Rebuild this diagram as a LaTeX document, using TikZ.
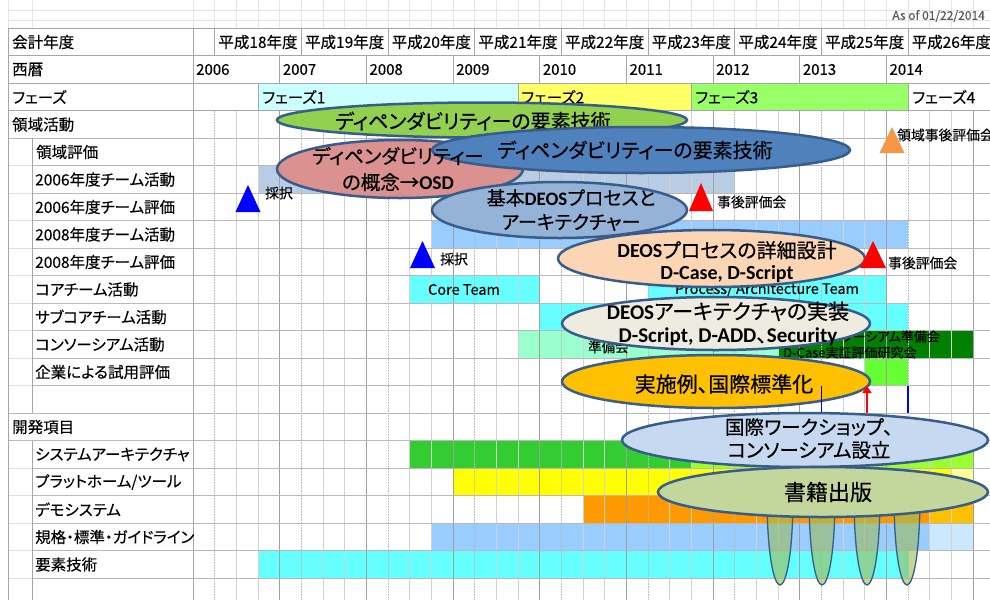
\documentclass[tikz,border=0pt]{standalone}
\usepackage{fontspec}
\newfontfamily\jp{Noto Sans CJK JP}[RawFeature=+palt, FakeBold=0.25]
\newfontfamily\jpe{Noto Sans CJK JP}[RawFeature=+palt, FakeBold=0.45]
\newfontfamily\carl{Carlito}
\usetikzlibrary{shapes.geometric,arrows.meta}
\definecolor{edge}{RGB}{56,93,138}
\definecolor{ph1}{RGB}{204,255,255}
\definecolor{ph2}{RGB}{255,255,102}
\definecolor{ph3}{RGB}{153,255,102}
\definecolor{tsix}{RGB}{184,204,228}
\definecolor{lb}{RGB}{153,204,255}
\definecolor{lbb}{RGB}{204,232,255}
\definecolor{cy}{RGB}{102,255,255}
\definecolor{mint}{RGB}{153,255,204}
\definecolor{dg}{RGB}{0,128,0}
\definecolor{lg}{RGB}{102,255,51}
\definecolor{sa}{RGB}{51,204,51}
\definecolor{saa}{RGB}{153,255,51}
\definecolor{yl}{RGB}{255,255,0}
\definecolor{yll}{RGB}{255,255,153}
\definecolor{org}{RGB}{255,153,0}
\definecolor{orgg}{RGB}{255,192,0}
\definecolor{eone}{RGB}{146,208,80}
\definecolor{etwo}{RGB}{218,145,143}
\definecolor{ethree}{RGB}{79,129,189}
\definecolor{efour}{RGB}{149,179,215}
\definecolor{efive}{RGB}{252,213,181}
\definecolor{esix}{RGB}{238,236,225}
\definecolor{eseven}{RGB}{255,192,0}
\definecolor{eeight}{RGB}{198,217,241}
\definecolor{enine}{RGB}{195,214,155}
\definecolor{drop}{RGB}{155,187,89}
\definecolor{trio}{RGB}{247,150,70}
\newcommand\setfs[1]{\fontsize{#1}{#1}\selectfont}
\begin{document}
\begin{tikzpicture}[x=1pt,y=-1pt,
  lab/.style={font=\jp\setfs{15.5}, anchor=west, inner sep=0pt},
  small/.style={font=\jp\setfs{13.8}, anchor=west, inner sep=0pt},
  ell/.style={ellipse, draw=edge, line width=2.5pt, inner sep=0pt},
  et/.style={font=\jpe\fontsize{20}{26}\selectfont, align=center, inner sep=0pt},
  yr/.style={draw=gray!75, line width=0.7pt},
  fy/.style={draw=gray!55, line width=0.6pt, densely dotted},
  qt/.style={draw=gray!35, line width=0.6pt},
  hl/.style={draw=gray!55, line width=0.7pt}]
\useasboundingbox (0,0) rectangle (990,600);
\clip (0,0) rectangle (990,600);
\fill[white] (0,0) rectangle (990,600);
% faint spreadsheet grid on top
\foreach \y in {10,20} \draw[gray!20] (8,\y) -- (990,\y);
\foreach \k in {0,...,36}{
  \pgfmathsetmacro\xx{193+21.6667*\k}
  \draw[gray!20] (\xx,0) -- (\xx,28);}
\draw[gray!20] (8,0) -- (8,28) (32,0) -- (32,28);
\node[font=\jp\setfs{12}, text=gray!70!black, anchor=east, inner sep=0pt] (asof) at (985,16) {As of 01/22/2014};
% phase cells
\fill[ph1] (258,83) rectangle (518,110.5);
\fill[ph2] (518,83) rectangle (691.33,110.5);
\fill[ph3] (691.33,83) rectangle (908,110.5);
% bars
\fill[tsix] (258,165.5) rectangle (734.67,193);
\fill[lb] (431.33,220.5) rectangle (908,248);
\fill[cy] (409.67,275.5) rectangle (539.67,303);
\fill[cy] (648,275.5) rectangle (886.33,303);
\fill[cy] (539.67,303) rectangle (908,330.5);
\fill[mint] (518,330.5) rectangle (778,358);
\fill[dg] (778,330.5) rectangle (973,358);
\fill[lg] (864.67,358) rectangle (908,385.5);
\fill[sa] (409.67,440.5) rectangle (691.33,468);
\fill[saa] (691.33,440.5) rectangle (973,468);
\fill[yl] (453,468) rectangle (951.33,495.5);
\fill[yll] (951.33,468) rectangle (973,495.5);
\fill[org] (583,495.5) rectangle (929.67,523);
\fill[orgg] (929.67,495.5) rectangle (973,523);
\fill[lb] (431.33,523) rectangle (929.67,550.5);
\fill[lbb] (929.67,523) rectangle (973,550.5);
\fill[cy] (258,550.5) rectangle (908,578);
% timeline grid
\foreach \k in {0,...,36}{
  \pgfmathsetmacro\xx{193+21.6667*\k}
  \pgfmathtruncatemacro\m{mod(\k,4)}
  \ifnum\m=0 \draw[yr] (\xx,110.5) -- (\xx,600);
  \else\ifnum\m=1 \draw[fy] (\xx,110.5) -- (\xx,600);
  \else \draw[qt] (\xx,110.5) -- (\xx,600); \fi\fi}
\foreach \y in {138,165.5,193,220.5,248,275.5,303,330.5,358,385.5,413,440.5,468,495.5,523,550.5,578}{
  \draw[hl] (193,\y) -- (990,\y);
  \draw[hl] (32,\y) -- (193,\y);
  \draw[gray!25, line width=0.6pt] (8,\y) -- (32,\y);}
\draw[hl] (8,138) -- (32,138) (8,413) -- (32,413) (8,440.5) -- (32,440.5);
% header grid
\foreach \y in {28,55.5,83,110.5} \draw[gray!70, line width=0.8pt] (8,\y) -- (990,\y);
\foreach \k in {0,...,8}{
  \pgfmathsetmacro\xx{214.6667+86.6667*\k}
  \draw[gray!70, line width=0.8pt] (\xx,28) -- (\xx,55.5);
  \pgfmathsetmacro\xy{193+86.6667*\k}
  \draw[gray!70, line width=0.8pt] (\xy,55.5) -- (\xy,83);}
\foreach \x in {258,518,691.33,908} \draw[gray!70, line width=0.8pt] (\x,83) -- (\x,110.5);
\draw[gray!70, line width=0.8pt] (8,28) -- (8,600) (193,28) -- (193,600);
\draw[gray!70, line width=0.8pt] (32,138) -- (32,413) (32,440.5) -- (32,600);
% left labels
\node[lab] (h1) at (12,42) {会計年度};
\node[lab] (h2) at (12,69.5) {西暦};
\node[lab] (h3) at (12,97) {フェーズ};
\node[lab] (h4) at (12,124.5) {領域活動};
\node[lab] (r1) at (36,152) {領域評価};
\node[lab] (r2) at (35,179.5) {2006年度チーム活動};
\node[lab] (r3) at (35,207) {2006年度チーム評価};
\node[lab] (r4) at (35,234.5) {2008年度チーム活動};
\node[lab] (r5) at (35,262) {2008年度チーム評価};
\node[lab] (r6) at (35,289.5) {コアチーム活動};
\node[lab] (r7) at (35,317) {サブコアチーム活動};
\node[lab] (r8) at (35,344.5) {コンソーシアム活動};
\node[lab] (r9) at (35,372) {企業による試用評価};
\node[lab] (h5) at (12,427) {開発項目};
\node[lab] (d1) at (35,454.5) {システムアーキテクチャ};
\node[lab] (d2) at (35,482) {プラットホーム/ツール};
\node[lab] (d3) at (35,509.5) {デモシステム};
\node[lab] (d4) at (35,537) {規格・標準・ガイドライン};
\node[lab] (d5) at (35,564.5) {要素技術};
% fiscal years and calendar years
\foreach \n [count=\i from 0] in {18,19,20,21,22,23,24,25,26}{
  \node[font=\jp\setfs{15.5}, inner sep=0pt] (fy\n) at ({258+86.6667*\i},42) {平成\n 年度};}
\foreach \n [count=\i from 0] in {2006,2007,2008,2009,2010,2011,2012,2013,2014}{
  \node[lab, font=\jp\setfs{15}] (y\n) at ({196+86.6667*\i},69.5) {\n};}
\node[lab] (p1) at (262,97) {フェーズ1};
\node[lab] (p2) at (521,97) {フェーズ2};
\node[lab] (p3) at (695,97) {フェーズ3};
\node[lab] (p4) at (912,97) {フェーズ4};
% bar texts
\node[font=\jp\setfs{14.5}, inner sep=0pt] (core) at (464,289.5) {Core Team};
\node[font=\jp\setfs{14.5}, inner sep=0pt] (proc) at (767,289.5) {Process/ Architecture Team};
\node[font=\jp\setfs{13.5}, anchor=west, inner sep=0pt] (jb) at (588,347) {準備会};
\node[font=\jp\setfs{13}, anchor=east, inner sep=0pt] (cjb) at (940,336.5) {コンソーシアム準備会};
\node[font=\jp\setfs{13}, anchor=west, inner sep=0pt] (dcase) at (783,352.5) {D-Case実証評価研究会};
% triangles and labels
\fill[blue] (248,185) -- (260.5,212) -- (235.5,212) -- cycle;
\node[small] (s1) at (265,193) {採択};
\fill[blue] (422.5,241) -- (435,268) -- (410,268) -- cycle;
\node[small] (s2) at (440,259) {採択};
% ellipses
\node[ell, fill=eone, minimum width=410, minimum height=35] (e1) at (482,120) {};
\node[et] (e1t) at (473,121) {ディペンダビリティーの要素技術};
\node[ell, fill=etwo, minimum width=246, minimum height=58] (e2) at (400,169) {};
\node[ell, fill=ethree, minimum width=418, minimum height=46] (e3) at (641,150) {};
\node[et] (e3t) at (635,150) {ディペンダビリティーの要素技術};
\node[et, font=\jpe\fontsize{19.5}{26}\selectfont] (e2t) at (398,169) {ディペンダビリティー\\の概念→{\carl\bfseries OSD}};
\node[ell, fill=efour, minimum width=255, minimum height=56] (e4) at (559.5,210) {};
\node[et, font=\jpe\fontsize{19}{24}\selectfont] (e4t) at (571,210) {基本{\carl\bfseries DEOS}プロセスと\\アーキテクチャー};
\fill[red] (701,183) -- (713,211) -- (689,211) -- cycle;
\node[small] (a1) at (717,202) {事後評価会};
\node[ell, fill=efive, minimum width=307, minimum height=57] (e5) at (711.5,258.5) {};
\node[et, font=\jpe\fontsize{20}{22}\selectfont] (e5t) at (727,262) {{\carl\bfseries DEOS}プロセスの詳細設計\\{\carl\bfseries\setfs{20}D-Case, D-Script}};
\fill[red] (873,241) -- (886,268) -- (860,268) -- cycle;
\node[small] (a2) at (888,263) {事後評価会};
\fill[trio] (892,127) -- (904.5,153) -- (879.5,153) -- cycle;
\node[small] (a3) at (897,135) {領域事後評価会};
\node[ell, fill=esix, minimum width=308, minimum height=53] (e6) at (716,323.5) {};
\node[et, font=\jpe\fontsize{21}{23}\selectfont] (e6t) at (728,323.5) {{\carl\bfseries DEOS}アーキテクチャの実装\\{\carl\bfseries D-Script, D-ADD}、{\carl\bfseries Security}};
\node[ell, fill=eseven, minimum width=308, minimum height=53] (e7) at (716,381.5) {};
\node[et, font=\jpe\setfs{21}] (e7t) at (724,384) {実施例、国際標準化};
% markers in blank row
\draw[blue, line width=1.3pt] (821.33,385.5) -- (821.33,413);
\draw[blue, line width=1.3pt] (908,385.5) -- (908,413);
\coordinate (arrs) at (867,413);
\coordinate (arre) at (867,386);
\draw[red, line width=2pt, -{Triangle[width=9pt,length=7pt]}] (arrs) -- (arre);
% drops
\foreach \c in {780,822,867,907}{
  \filldraw[fill=drop, fill opacity=0.6, draw=edge, line width=1.3pt]
    (\c-13,495) .. controls (\c-13,555) and (\c-6,585) .. (\c,585)
    .. controls (\c+6,585) and (\c+13,555) .. (\c+13,495);}
\node[ell, fill=eeight, minimum width=366, minimum height=54] (e8) at (805,440) {};
\node[et, font=\jpe\fontsize{19.5}{23}\selectfont] (e8t) at (809,438.5) {国際ワークショップ、\\コンソーシアム設立};
\node[ell, fill=enine, minimum width=330, minimum height=50] (e9) at (823,492) {};
\node[et, font=\jpe\setfs{22}] (e9t) at (828,492) {書籍出版};
\end{tikzpicture}
\end{document}
